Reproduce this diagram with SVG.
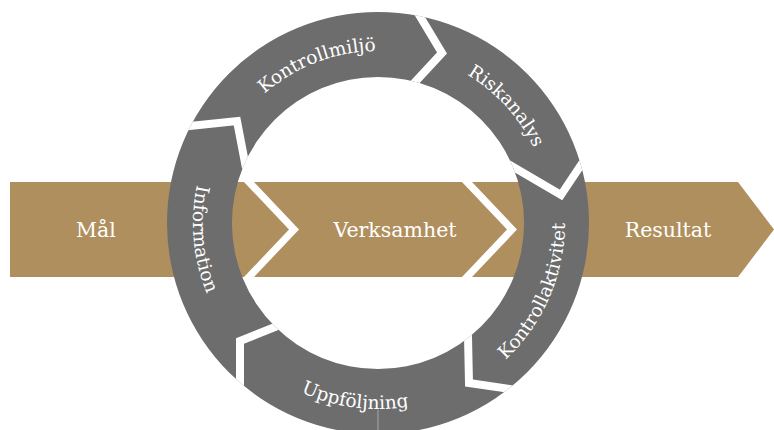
<svg xmlns="http://www.w3.org/2000/svg" width="774" height="430" viewBox="0 0 774 430">
<style>
.band{fill:#B08F5E}
.seg{fill:#6D6D6D}
.gap{fill:none;stroke:#FFFFFF;stroke-width:8;stroke-linejoin:miter;stroke-miterlimit:10}
.lbl{font-family:"DejaVu Serif","Liberation Serif",serif;fill:#FFFFFF}
.bt{font-size:20.5px;text-anchor:middle}
.rt{font-size:18.5px;text-anchor:middle}
</style>
<defs>
<clipPath id="ring">
<path clip-rule="evenodd" d="M378,12 A211,211 0 1 1 378,434 A211,211 0 1 1 378,12 Z M378,77 A146,146 0 1 0 378,369 A146,146 0 1 0 378,77 Z"/>
</clipPath>
<path id="pKm" d="M208.1,196.1 A172,172 0 0 1 486.2,89.3"/>
<path id="pRa" d="M340.9,54 A173,173 0 0 1 542.9,275.3"/>
<path id="pKa" d="M399.2,408.8 A187,187 0 0 0 528.3,111.8"/>
<path id="pIn" d="M271.1,72 A185,185 0 0 0 300.7,391.1"/>
<path id="pUp" d="M206.2,294.2 A186,186 0 0 0 525.6,336.2"/>
</defs>

<g id="mal">
<path class="band" d="M10,182 L244,182 L289,229.5 L244,277 L10,277 Z"/>
<text class="lbl bt" x="96" y="237">Mål</text>
</g>
<g id="verksamhet">
<path class="band" d="M254,182 L462,182 L507,229.5 L462,277 L254,277 L299,229.5 Z"/>
<text class="lbl bt" x="395" y="237">Verksamhet</text>
</g>
<g id="resultat">
<path class="band" d="M472,182 L738,182 L774,229.5 L738,277 L472,277 L517,229.5 Z"/>
<text class="lbl bt" x="668" y="237">Resultat</text>
</g>

<g id="kontrollmiljo">
<path class="seg" clip-path="url(#ring)" d="M378,223 L246.9,172.8 L237,121 L180.1,127.1 L110.7,86.8 L228,-36.8 L378,-77 L430.1,-72.4 L412.8,4.4 L442,53 L410.2,87.3 Z"/>
<text class="lbl rt"><textPath href="#pKm" startOffset="50%">Kontrollmiljö</textPath></text>
</g>
<g id="riskanalys">
<path class="seg" clip-path="url(#ring)" d="M378,223 L410.2,87.3 L442,53 L412.8,4.4 L430.1,-72.4 L570.8,-6.8 L663.3,130.3 L586.5,156.7 L561,195 L506.4,162.9 Z"/>
<text class="lbl rt"><textPath href="#pRa" startOffset="50%">Riskanalys</textPath></text>
</g>
<g id="kontrollaktivitet">
<path class="seg" clip-path="url(#ring)" d="M378,223 L506.4,162.9 L561,195 L586.5,156.7 L663.3,130.3 L659.9,325.6 L570.8,452.8 L519.9,390.4 L469,383 L467.8,327 Z"/>
<text class="lbl rt"><textPath href="#pKa" startOffset="50%">Kontrollaktivitet</textPath></text>
</g>
<g id="uppfoljning">
<path class="seg" clip-path="url(#ring)" d="M378,223 L467.8,327 L469,383 L519.9,390.4 L570.8,452.8 L378,523 L185.2,452.8 L240,393 L240,341 L284.3,323.3 Z"/>
<text class="lbl rt"><textPath href="#pUp" startOffset="50%">Uppföljning</textPath></text>
</g>
<g id="information">
<path class="seg" clip-path="url(#ring)" d="M378,223 L284.3,323.3 L240,341 L240,393 L185.2,452.8 L82.6,275.1 L110.7,86.8 L180.1,127.1 L237,121 L246.9,172.8 Z"/>
<text class="lbl rt"><textPath href="#pIn" startOffset="50%">Information</textPath></text>
</g>

<g id="connectors" clip-path="url(#ring)">
<polyline class="gap" points="412.8,4.4 442,53 410.2,87.3"/>
<polyline class="gap" points="506.4,162.9 561,195 586.5,156.7"/>
<polyline class="gap" points="467.8,327 469,383 519.9,390.4"/>
<polyline class="gap" points="284.3,323.3 240,341 240,393"/>
<polyline class="gap" points="180.1,127.1 237,121 246.9,172.8"/>
</g>
<line x1="378" y1="410" x2="378" y2="430" stroke="#A8A8A8" stroke-width="1"/>
</svg>
